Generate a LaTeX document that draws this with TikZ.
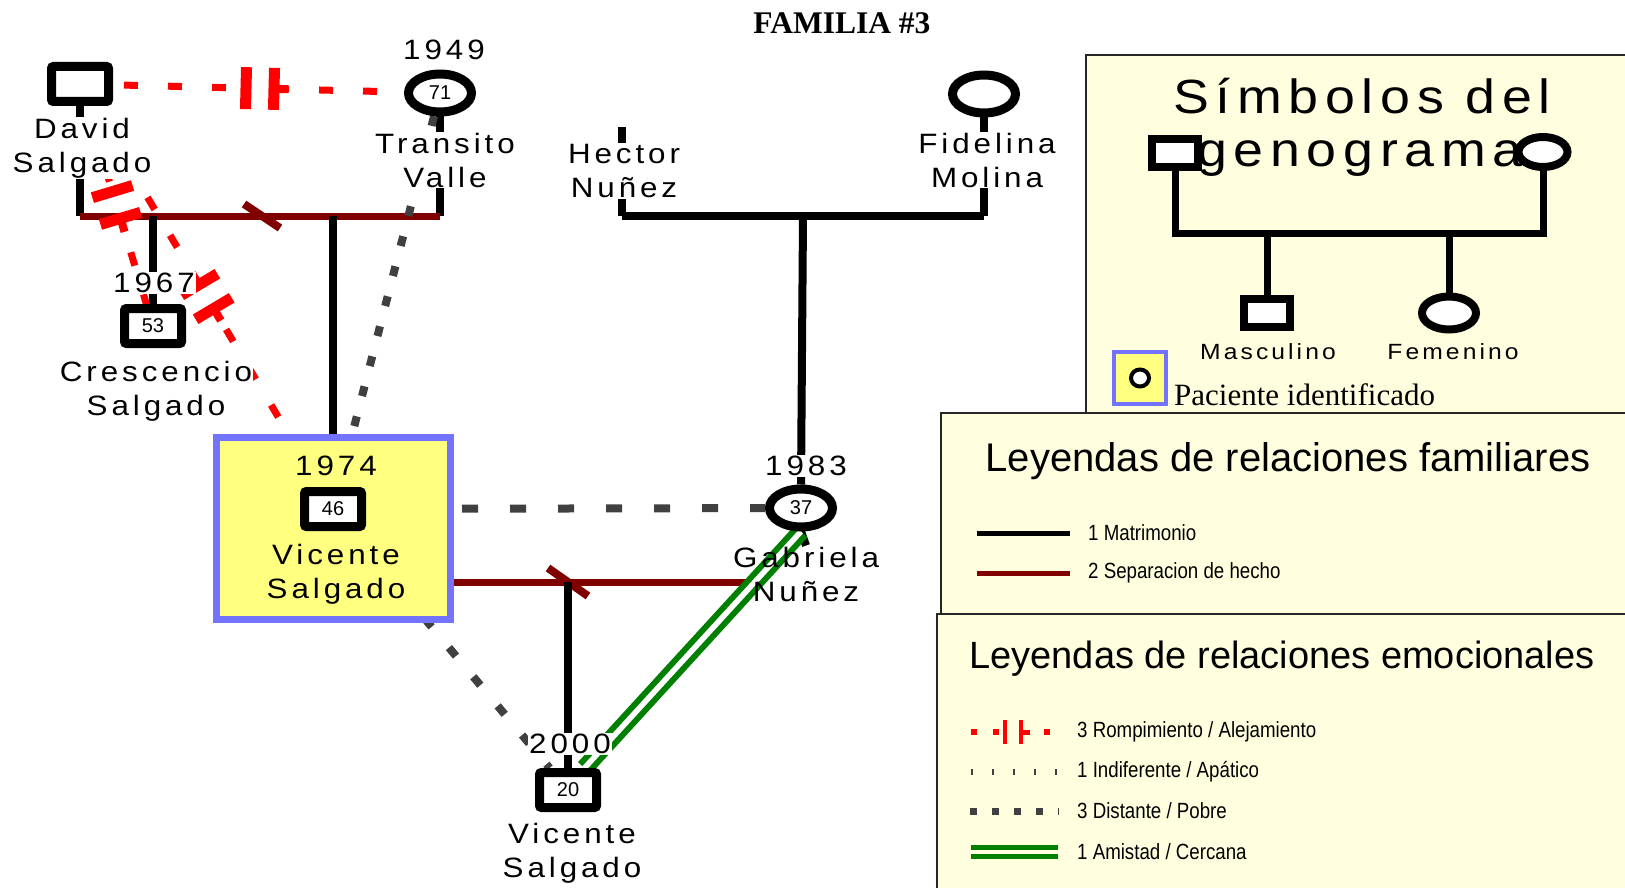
\documentclass[tikz,border=0pt]{standalone}
\usepackage{fontspec}
\setmainfont{Liberation Sans}
\newfontfamily\genfont[LetterSpace=14, FakeStretch=1.12]{Liberation Sans}
\newfontfamily\serifont{Liberation Serif}
\newfontfamily\narrowfont[FakeStretch=0.85]{Liberation Sans}
\usetikzlibrary{calc,backgrounds,shapes.geometric}

\tikzset{
  hombre/.style={draw, line width=9pt, fill=white, rounded corners=2pt, minimum width=57pt, minimum height=35pt, inner sep=0pt, font=\fontsize{20}{20}\selectfont},
  mujer/.style={ellipse, draw, line width=9pt, fill=white, minimum width=63pt, minimum height=38pt, inner sep=0pt, font=\fontsize{20}{20}\selectfont},
  paciente/.style={draw=azulpi, line width=7pt, fill=amarillo, minimum width=234pt, minimum height=182pt},
  nombre/.style={fill=white, inner sep=1pt, align=center, font=\genfont\fontsize{28}{34}\selectfont},
  anio/.style={fill=white, inner sep=1pt, font=\genfont\fontsize{28}{28}\selectfont},
  matri/.style={draw=black, line width=8pt},
  separa/.style={draw=sepred, line width=7pt},
  corte/.style={draw=sepred, line width=8pt},
  rompe/.style={draw=rojo, line width=7pt, dash pattern=on 14pt off 30pt},
  barra/.style={draw=rojo, line width=11pt},
  tope/.style={draw=rojo, line width=8pt},
  distante/.style={draw=gris, line width=8pt, dash pattern=on 10pt off 21pt},
  amistad/.style={draw=verde, line width=6pt, double=white, double distance=5.5pt},
  leyenda/.style={draw=black!85, line width=2pt, fill=crema, anchor=north west},
  hombreley/.style={draw, line width=8pt, fill=white, minimum width=46pt, minimum height=28pt, inner sep=0pt},
  mujerley/.style={ellipse, draw, line width=8pt, fill=white, minimum width=49pt, minimum height=30pt, inner sep=0pt},
  linealey/.style={draw=black, line width=7pt},
  simbtit/.style={anchor=base, inner sep=0pt, font=\genfont\fontsize{48}{48}\selectfont},
  leytit/.style={font=\fontsize{38}{38}\selectfont},
  item/.style={anchor=west, inner sep=0pt, font=\narrowfont\fontsize{22}{22}\selectfont}
}

% rompimiento between two persons
\newcommand{\rompe}[2]{%
  \coordinate (ra) at ($(#1)!0.5!(#2)!-14pt!(#2)$);
  \coordinate (rb) at ($(#1)!0.5!(#2)!14pt!(#2)$);
  \coordinate (rc) at ($(rb)!14pt!(#2)$);
  \draw[rompe] (#1.center) -- (ra);
  \draw[rompe, dash phase=25pt] (#2.center) -- (rc);
  \draw[barra] ($(ra)!21pt!90:(#2)$) -- ($(ra)!21pt!-90:(#2)$);
  \draw[barra] ($(rb)!21pt!90:(#2)$) -- ($(rb)!21pt!-90:(#2)$);
  \draw[tope] (rb) -- (rc);
}

\begin{document}
\begin{tikzpicture}[x=1pt, y=-1pt]
  % Define colors
  \definecolor{sepred}{RGB}{128,0,0}
  \definecolor{rojo}{RGB}{255,0,0}
  \definecolor{gris}{RGB}{64,64,64}
  \definecolor{verde}{RGB}{0,128,0}
  \definecolor{azulpi}{RGB}{115,115,255}
  \definecolor{amarillo}{RGB}{255,255,128}
  \definecolor{crema}{RGB}{255,255,224}

  \useasboundingbox (0,0) rectangle (1625,888);

  % Title
  \node[font=\serifont\bfseries\fontsize{31.5}{32}\selectfont] (titulo) at (842,23) {FAMILIA \#3};

  % Identified patient
  \node[paciente] (pi) at (333,528) {};

  % Persons
  \node[hombre] (david) at (80,84) {};
  \node[mujer] (transito) at (440,93) {71};
  \node[hombre] (crescencio) at (153,326) {53};
  \node[hombre] (vicente) at (333,509) {46};
  \coordinate (hector) at (622,127);
  \node[mujer] (fidelina) at (984,94) {};
  \node[mujer] (gabriela) at (801,508) {37};
  \node[hombre] (hijo) at (568,790) {20};

  % Marriage lines
  \coordinate (u1) at (262,216);
  \coordinate (u2) at (803,216);
  \coordinate (u3) at (568,582);

  % Names and years
  \node[anio] (transitoy) at (444,50) {1949};
  \node[nombre] (davidn) at (82,148) {David\\Salgado};
  \node[nombre] (transiton) at (445,160) {Transito\\Valle};
  \node[anio] (crescencioy) at (154,283) {1967};
  \node[nombre] (crescencion) at (156,391) {Crescencio\\Salgado};
  \node[nombre] (hectorn) at (624,171) {Hector\\Nuñez};
  \node[nombre] (fidelinan) at (987,160) {Fidelina\\Molina};
  \node[anio, fill=none] (vicentey) at (336,466) {1974};
  \node[nombre, fill=none] (vicenten) at (336,574) {Vicente\\Salgado};
  \node[anio] (gabrielay) at (806,466) {1983};
  \node[nombre, fill=none] (gabrielan) at (806,574) {Gabriela\\Nuñez};
  \node[anio] (hijoy) at (570,744) {2000};
  \node[nombre] (hijon) at (572,853) {Vicente\\Salgado};

  \begin{pgfonlayer}{background}
    % David - Transito
    \draw[matri] (david.south) -- (david.south |- u1);
    \draw[matri] (transito.south) -- (transito.south |- u1);
    \draw[separa] (david.south |- u1) -- (transito.south |- u1);
    \draw[corte] ($(u1)+(-18,-12)$) -- ($(u1)+(18,12)$);
    \draw[matri] (crescencio.north |- u1) -- (crescencio.north);
    \draw[matri] (pi.north |- u1) -- (pi.north);

    % Hector - Fidelina
    \draw[matri] (hector) -- (hector |- u2);
    \draw[matri] (fidelina.south) -- (fidelina.south |- u2);
    \draw[matri] (hector |- u2) -- (fidelina.south |- u2);
    \draw[matri] (u2) -- (gabriela.north);

    % Vicente - Gabriela
    \draw[matri] (gabriela.south) -- (gabrielan.north);
    \draw[separa] (pi.east |- u3) -- ($(gabrielan.west |- u3)+(16,0)$);
    \draw[corte] ($(u3)+(-20,-14)$) -- ($(u3)+(20,14)$);
    \draw[matri] (u3) -- (hijo.north);

    % Emotional relations
    \rompe{david}{transito}
    \rompe{david}{crescencio}
    \rompe{david}{vicente}
    \draw[distante] (transito) -- (vicente);
    \draw[distante, dash pattern=on 16pt off 32pt] (vicente) -- (gabriela);
    \draw[distante, dash pattern=on 11pt off 27pt] (vicente) -- (hijo);
    \draw[amistad] (gabriela.south) -- ($(hijo.north)!0.5!(hijo.north east)$);
  \end{pgfonlayer}

  % Legend: symbols
  \node[leyenda, minimum width=560pt, minimum height=360pt] (caja1) at (1085,54) {};
  \node[simbtit] (simb1) at (1362,114) {Símbolos del};
  \node[simbtit] (simb2) at (1360,166) {genograma};
  \node[hombreley] (lh) at (1175,153) {};
  \node[mujerley] (lm) at (1543,152) {};
  \node[hombreley] (lhijo) at (1267,313) {};
  \node[mujerley, minimum width=54pt, minimum height=33pt] (lhija) at (1449,313) {};
  \coordinate (lu) at (1360,233);
  \draw[linealey] (lh.south) -- (lh.south |- lu) -- (lm.south |- lu) -- (lm.south);
  \draw[linealey] (lhijo.north |- lu) -- (lhijo.north);
  \draw[linealey] (lhija.north |- lu) -- (lhija.north);
  \node[font=\genfont\fontsize{22}{22}\selectfont] (lmasc) at (1268,352) {Masculino};
  \node[font=\genfont\fontsize{22}{22}\selectfont] (lfem) at (1453,352) {Femenino};
  \node[draw=azulpi, line width=4pt, fill=amarillo, minimum size=52pt] (lpi) at (1140,378) {};
  \node[ellipse, draw, line width=4pt, fill=white, minimum width=18pt, minimum height=17pt, inner sep=0pt] (lpic) at (lpi) {};
  \node[anchor=base west, inner sep=0pt, font=\serifont\fontsize{31}{31}\selectfont] (lpit) at (1174,405) {Paciente identificado};

  % Legend: family relations
  \node[leyenda, minimum width=700pt, minimum height=201pt] (caja2) at (940,412) {};
  \node[leytit, font=\fontsize{40}{40}\selectfont] (fam) at (1288,461) {Leyendas de relaciones familiares};
  \coordinate (l1a) at (977,533);
  \coordinate (l1b) at (1070,533);
  \coordinate (l2a) at (977,573);
  \coordinate (l2b) at (1070,573);
  \draw[line width=5pt] (l1a) -- (l1b);
  \draw[sepred, line width=5pt] (l2a) -- (l2b);
  \node[item] (l1t) at (1088,533) {1 Matrimonio};
  \node[item] (l2t) at (1088,573) {2 Separacion de hecho};

  % Legend: emotional relations
  \node[leyenda, minimum width=700pt, minimum height=290pt] (caja3) at (936,613) {};
  \node[leytit] (emo) at (1282,659) {Leyendas de relaciones emocionales};
  \coordinate (e1a) at (971,732);
  \coordinate (e1b) at (1001,732);
  \coordinate (e1c) at (1005,720);
  \coordinate (e1d) at (1021,720);
  \coordinate (e1e) at (1044,732);
  \draw[rojo, line width=6pt, dash pattern=on 6pt off 16pt] (e1a) -- (e1b);
  \draw[rojo, line width=4pt] (e1c) -- ++(0,24);
  \draw[rojo, line width=4pt] (e1d) -- ++(0,24);
  \draw[rojo, line width=5pt] (e1d |- e1a) -- ++(9,0);
  \draw[rojo, line width=6pt] (e1e) -- ++(6,0);
  \coordinate (e2a) at (971,772);
  \coordinate (e2b) at (1058,772);
  \draw[gris, line width=6pt, dash pattern=on 1.5pt off 19.5pt] (e2a) -- (e2b);
  \coordinate (e3a) at (970,811);
  \coordinate (e3b) at (1059,811);
  \draw[gris, line width=7pt, dash pattern=on 7pt off 15pt] (e3a) -- (e3b);
  \coordinate (e4a) at (971,852);
  \coordinate (e4b) at (1058,852);
  \draw[verde, line width=5pt, double=crema, double distance=4.5pt] (e4a) -- (e4b);
  \node[item] (e1t) at (1077,732) {3 Rompimiento / Alejamiento};
  \node[item] (e2t) at (1077,772) {1 Indiferente / Apático};
  \node[item] (e3t) at (1077,811) {3 Distante / Pobre};
  \node[item] (e4t) at (1077,852) {1 Amistad / Cercana};
\end{tikzpicture}
\end{document}
